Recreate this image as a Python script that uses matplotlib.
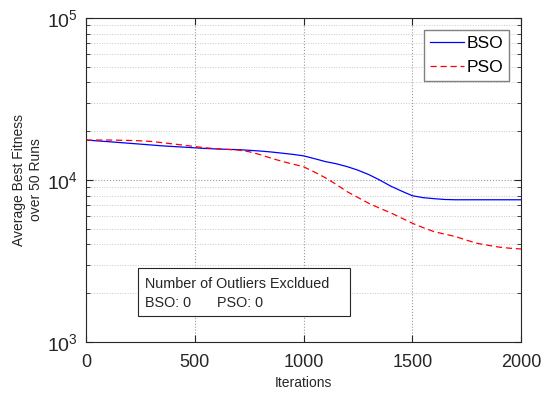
import numpy as np
import matplotlib.pyplot as plt
from matplotlib.patches import Rectangle
from matplotlib.ticker import LogLocator, NullFormatter

plt.rcParams["font.family"] = ["Liberation Sans", "DejaVu Sans"]
plt.rcParams["mathtext.fontset"] = "custom"
plt.rcParams["mathtext.rm"] = "Liberation Sans"

INK = "#262626"

iterations = list(range(0, 2001, 50))
bso = [17650, 17450, 17250, 17050, 16850, 16650, 16450, 16250, 16100, 15950,
       15800, 15650, 15550, 15450, 15400, 15250, 15100, 14900, 14650, 14400,
       14100, 13550, 13000, 12600, 12100, 11500, 10800, 10000, 9180, 8550,
       8000, 7780, 7670, 7580, 7550, 7550, 7550, 7550, 7550, 7550, 7550]
pso = [17600, 17650, 17650, 17600, 17550, 17450, 17300, 17000, 16700, 16400,
       16100, 15800, 15600, 15450, 15300, 14950, 14350, 13650, 13050, 12550,
       12080, 11200, 10330, 9400, 8480, 7800, 7180, 6700, 6280, 5830,
       5410, 5080, 4800, 4630, 4470, 4250, 4060, 3950, 3850, 3790, 3750]
x_ticks = [0, 500, 1000, 1500, 2000]

fig = plt.figure(figsize=(5.42, 3.95), dpi=100)
ax = fig.add_axes([0.1587, 0.1342, 0.8026, 0.8202])

ax.plot(iterations, bso, color="#0000ff", linewidth=0.9, label="BSO")
ax.plot(iterations, pso, "--", color="#ff0000", linewidth=0.9, dashes=(5, 3), label="PSO")

ax.set_yscale("log")
ax.set_xlim(0, 2000)
ax.set_ylim(1e3, 1e5)
ax.set_xticks(x_ticks)
ax.yaxis.set_minor_locator(LogLocator(base=10, subs=np.arange(2, 10)))
ax.yaxis.set_minor_formatter(NullFormatter())

ax.grid(True, which="major", linestyle=":", color="#9a9a9a", linewidth=0.8)
ax.grid(True, which="minor", axis="y", linestyle=":", color="#c8c8c8", linewidth=0.7)
ax.tick_params(which="both", direction="in", top=True, right=True, colors=INK)
ax.tick_params(which="major", length=5)
ax.tick_params(axis="x", which="major", labelsize=13, pad=9)
ax.tick_params(axis="y", which="major", labelsize=14, pad=6)
ax.tick_params(which="minor", length=3)
for spine in ax.spines.values():
    spine.set_color(INK)
    spine.set_linewidth(0.8)

ax.set_xlabel("Iterations", fontsize=10, color=INK, labelpad=3)
ax.set_ylabel("Average Best Fitness\nover 50 Runs", fontsize=10, color=INK, labelpad=3)

leg = ax.legend(loc="upper right", bbox_to_anchor=(0.972, 0.963), borderaxespad=0,
                fontsize=12.5, fancybox=False, framealpha=1, edgecolor="#808080",
                handlelength=2.0, handletextpad=0.1, borderpad=0.35, labelspacing=0.5)
leg.get_frame().set_linewidth(1.0)

ax.add_patch(Rectangle((0.1195, 0.080), 0.487, 0.148, transform=ax.transAxes,
                       facecolor="white", edgecolor=INK, linewidth=0.8, zorder=5))
ax.text(0.135, 0.178, "Number of Outliers Excldued", transform=ax.transAxes,
        fontsize=10.4, color=INK, va="center", zorder=6)
ax.text(0.135, 0.12, "BSO: 0", transform=ax.transAxes,
        fontsize=10.4, color=INK, va="center", zorder=6)
ax.text(0.301, 0.12, "PSO: 0", transform=ax.transAxes,
        fontsize=10.4, color=INK, va="center", zorder=6)

fig.savefig("out.png", dpi=100, facecolor="white")
